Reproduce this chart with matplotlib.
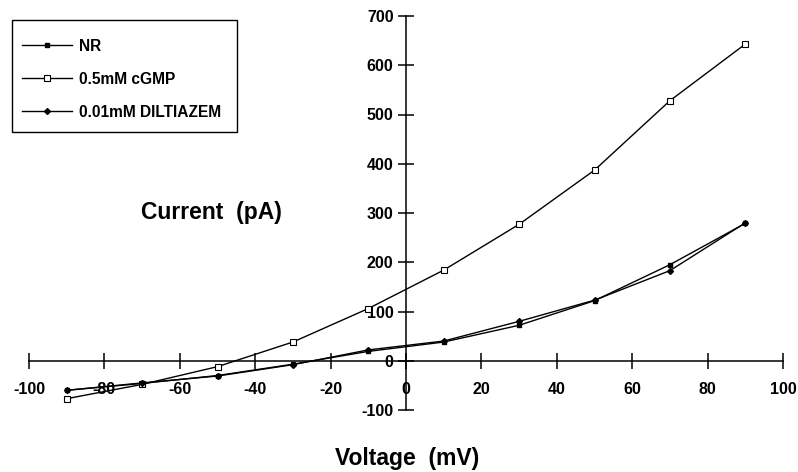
import matplotlib.pyplot as plt
from matplotlib.patches import Rectangle

plt.rcParams['font.family'] = ['Liberation Sans', 'DejaVu Sans']
plt.rcParams['axes.unicode_minus'] = False

# voltage steps (mV)
voltage = [-90, -70, -50, -30, -10, 10, 30, 50, 70, 90]

# currents (pA)
nr = [-60, -46, -30, -7, 19, 38, 72, 122, 195, 279]
cgmp = [-77, -48, -12, 38, 106, 184, 277, 387, 528, 643]
diltiazem = [-60, -45, -31, -8, 22, 40, 80, 123, 183, 280]

x_ticks = [-100, -80, -60, -40, -20, 0, 20, 40, 60, 80, 100]
y_ticks = [-100, 0, 100, 200, 300, 400, 500, 600, 700]

W, H = 798, 472
fig = plt.figure(figsize=(W / 100, H / 100), dpi=100)
ax = fig.add_axes([29 / W, 62 / H, 754 / W, 394 / H])

ax.plot(voltage, nr, color='black', lw=1.0, marker='s', ms=3.5,
        mfc='black', mec='black', label='NR')
ax.plot(voltage, cgmp, color='black', lw=1.0, marker='s', ms=4.8,
        mfc='white', mec='black', mew=0.8, label='0.5mM cGMP')
ax.plot(voltage, diltiazem, color='black', lw=1.0, marker='D', ms=3,
        mfc='black', mec='black', label='0.01mM DILTIAZEM')

ax.set_xlim(-100, 100)
ax.set_ylim(-100, 700)
ax.spines['left'].set_position(('data', 0))
ax.spines['bottom'].set_position(('data', 0))
ax.spines['top'].set_visible(False)
ax.spines['right'].set_visible(False)
ax.spines['left'].set_linewidth(1.1)
ax.spines['bottom'].set_linewidth(1.1)
ax.set_xticks(x_ticks)
ax.set_yticks(y_ticks)
ax.tick_params(direction='inout', length=11, width=1.1, labelsize=11.5)
ax.tick_params(axis='x', pad=10)
for lbl in ax.get_xticklabels() + ax.get_yticklabels():
    lbl.set_fontweight('bold')

# legend box drawn separately so it can be taller than the entries
fig.patches.append(Rectangle((12 / W, 1 - 132 / H), 225 / W, 112 / H,
                             transform=fig.transFigure, fill=False,
                             edgecolor='black', lw=1.0))
ax.legend(loc='upper left', bbox_to_anchor=(14 / W, 1 - 31 / H),
          bbox_transform=fig.transFigure, frameon=False,
          prop={'weight': 'bold', 'size': 11.2}, borderpad=0,
          handlelength=3.2, handletextpad=0.5, labelspacing=1.15)

fig.text(211 / W, 1 - 212 / H, 'Current  (pA)', ha='center', va='center',
         fontsize=16.5, fontweight='bold')
fig.text(407 / W, 1 - 458 / H, 'Voltage  (mV)', ha='center', va='center',
         fontsize=16.5, fontweight='bold')

fig.savefig('out.png', dpi=100)
